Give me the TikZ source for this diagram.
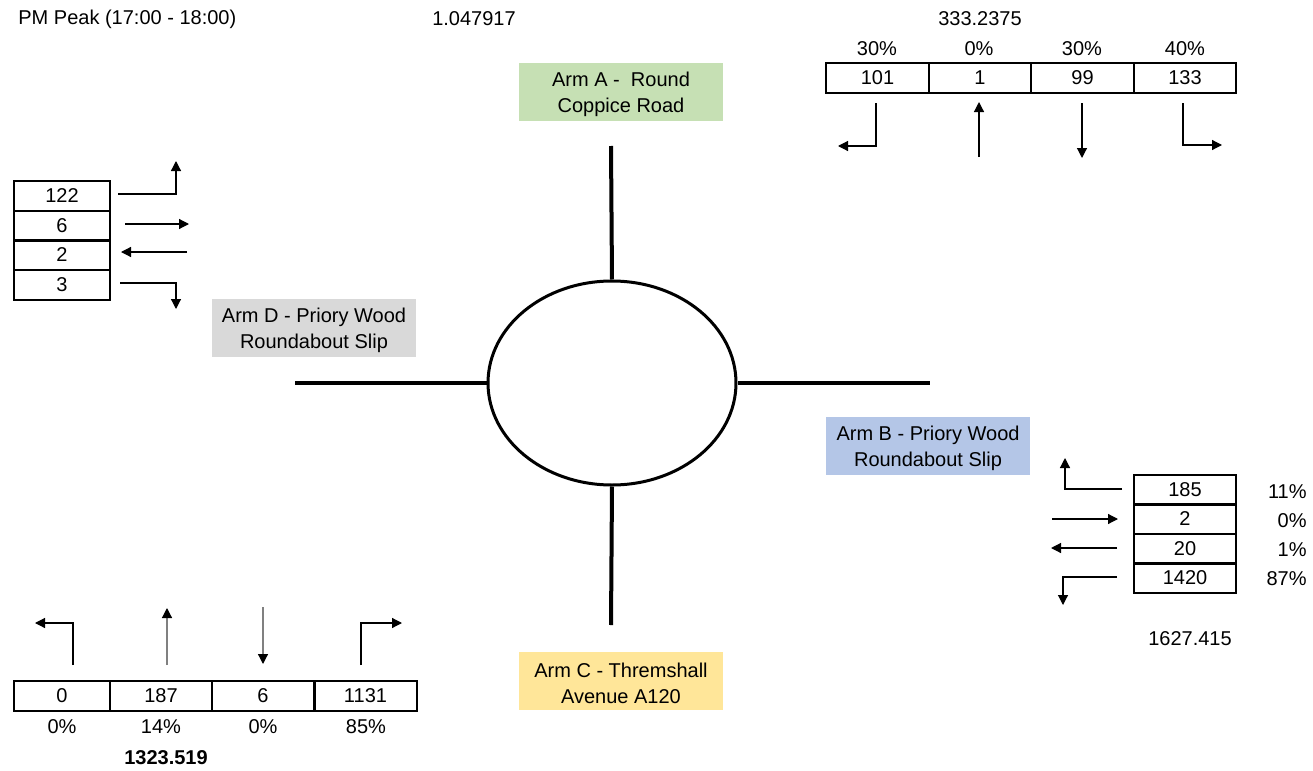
\documentclass[tikz,border=0pt]{standalone}
\usepackage{fontspec}
\setmainfont{Liberation Sans}
\usetikzlibrary{arrows.meta,shapes}

\definecolor{armgreen}{HTML}{C6E0B4}
\definecolor{armgrey}{HTML}{D9D9D9}
\definecolor{armblue}{HTML}{B4C6E7}
\definecolor{armyellow}{HTML}{FFE699}

\begin{document}
\begin{tikzpicture}[x=0.5pt, y=-0.5pt, >={Triangle[length=5pt,width=5pt,color=black]},
	font=\fontsize{10}{13}\selectfont]
	\tikzstyle{every node} = [rectangle, inner sep=0pt]
	\tikzstyle{cell} = [draw, line width=1pt, minimum height=15pt]
	\tikzstyle{hcell} = [cell, minimum width=51.25pt]
	\tikzstyle{vcell} = [cell, minimum width=48pt]
	\tikzstyle{rcell} = [cell, minimum width=51pt]
	\tikzstyle{arm} = [align=center, minimum width=102pt, minimum height=29pt]
	\tikzstyle{road} = [line width=2pt]
	\tikzstyle{flow} = [->, line width=0.6pt]
	\useasboundingbox (0,0) rectangle (1313,771);

	% header
	\node[anchor=west] (title) at (18,19) {PM Peak (17:00 - 18:00)};
	\node (factor) at (474,19) {1.047917};

	% roundabout and arms
	\node[ellipse, draw, line width=1.5pt, minimum width=124pt, minimum height=102pt] (ring) at (612,383) {};
	\coordinate (endA) at (611,146);
	\coordinate (endB) at (930,383);
	\coordinate (endC) at (611,625);
	\coordinate (endD) at (295,383);
	\draw [road] (ring.north) -- (endA);
	\draw [road] (ring.east)  -- (endB);
	\draw [road] (ring.south) -- (endC);
	\draw [road] (ring.west)  -- (endD);

	\node[arm, fill=armgreen]  (armA) at (621,92)  {\strut Arm A -\ \ Round\\Coppice Road};
	\node[arm, fill=armblue]   (armB) at (928,446) {\strut Arm B - Priory Wood\\Roundabout Slip};
	\node[arm, fill=armyellow] (armC) at (621,681) {\strut Arm C - Thremshall\\Avenue A120};
	\node[arm, fill=armgrey]   (armD) at (314,328) {\strut Arm D - Priory Wood\\Roundabout Slip};

	% arm A counts
	\node (totA) at (980,19) {333.2375};
	\node[hcell] (a1) at (877.5,78)  {101};
	\node[hcell] (a2) at (980,78)    {1};
	\node[hcell] (a3) at (1082.5,78) {99};
	\node[hcell] (a4) at (1185,78)   {133};
	\node (pa1) at (877,49)  {30\%};
	\node (pa2) at (979,49)  {0\%};
	\node (pa3) at (1082,49) {30\%};
	\node (pa4) at (1185,49) {40\%};
	\coordinate (a1s) at (876,103);  \coordinate (a1e) at (838,146);
	\coordinate (a2s) at (979,157);  \coordinate (a2e) at (979,102);
	\coordinate (a3s) at (1082,103); \coordinate (a3e) at (1082,158);
	\coordinate (a4s) at (1183,103); \coordinate (a4e) at (1222,145);
	\draw [flow] (a1s) |- (a1e);
	\draw [flow] (a2s) -- (a2e);
	\draw [flow] (a3s) -- (a3e);
	\draw [flow] (a4s) |- (a4e);

	% arm D counts
	\node[vcell] (d1) at (62,196)   {122};
	\node[vcell] (d2) at (62,225.5) {6};
	\node[vcell] (d3) at (62,255)   {2};
	\node[vcell] (d4) at (62,284.5) {3};
	\coordinate (d1s) at (118,194); \coordinate (d1e) at (176,161);
	\coordinate (d2s) at (125,224); \coordinate (d2e) at (189,224);
	\coordinate (d3s) at (187,252); \coordinate (d3e) at (121,252);
	\coordinate (d4s) at (120,283); \coordinate (d4e) at (176,309);
	\draw [flow] (d1s) -| (d1e);
	\draw [flow] (d2s) -- (d2e);
	\draw [flow] (d3s) -- (d3e);
	\draw [flow] (d4s) -| (d4e);

	% arm B counts
	\node[rcell] (b1) at (1185,489.5) {185};
	\node[rcell] (b2) at (1185,519)   {2};
	\node[rcell] (b3) at (1185,548.5) {20};
	\node[rcell] (b4) at (1185,578)   {1420};
	\node[anchor=east] (pb1) at (1307,492) {11\%};
	\node[anchor=east] (pb2) at (1307,521) {0\%};
	\node[anchor=east] (pb3) at (1307,550) {1\%};
	\node[anchor=east] (pb4) at (1307,579) {87\%};
	\node (totB) at (1190,639) {1627.415};
	\coordinate (b1s) at (1122,489); \coordinate (b1e) at (1065,458);
	\coordinate (b2s) at (1052,519); \coordinate (b2e) at (1118,519);
	\coordinate (b3s) at (1117,548); \coordinate (b3e) at (1051,548);
	\coordinate (b4s) at (1117,577); \coordinate (b4e) at (1063,605);
	\draw [flow] (b1s) -| (b1e);
	\draw [flow] (b2s) -- (b2e);
	\draw [flow] (b3s) -- (b3e);
	\draw [flow] (b4s) -| (b4e);

	% arm C counts
	\node[vcell] (c1) at (62,696)    {0};
	\node[rcell] (c2) at (161,696)   {187};
	\node[rcell] (c3) at (263,696)   {6};
	\node[rcell] (c4) at (365.5,696) {1131};
	\node (pc1) at (62,727)  {0\%};
	\node (pc2) at (161,727) {14\%};
	\node (pc3) at (263,727) {0\%};
	\node (pc4) at (366,727) {85\%};
	\node[font=\fontsize{10}{13}\selectfont\bfseries] (totC) at (166,758) {1323.519};
	\coordinate (c1s) at (73,665);  \coordinate (c1e) at (35,623);
	\coordinate (c2s) at (167,665); \coordinate (c2e) at (167,608);
	\coordinate (c3s) at (263,607); \coordinate (c3e) at (263,664);
	\coordinate (c4s) at (361,665); \coordinate (c4e) at (402,623);
	\draw [flow] (c1s) |- (c1e);
	\draw [flow, draw=gray] (c2s) -- (c2e);
	\draw [flow, draw=gray] (c3s) -- (c3e);
	\draw [flow] (c4s) |- (c4e);
\end{tikzpicture}
\end{document}
